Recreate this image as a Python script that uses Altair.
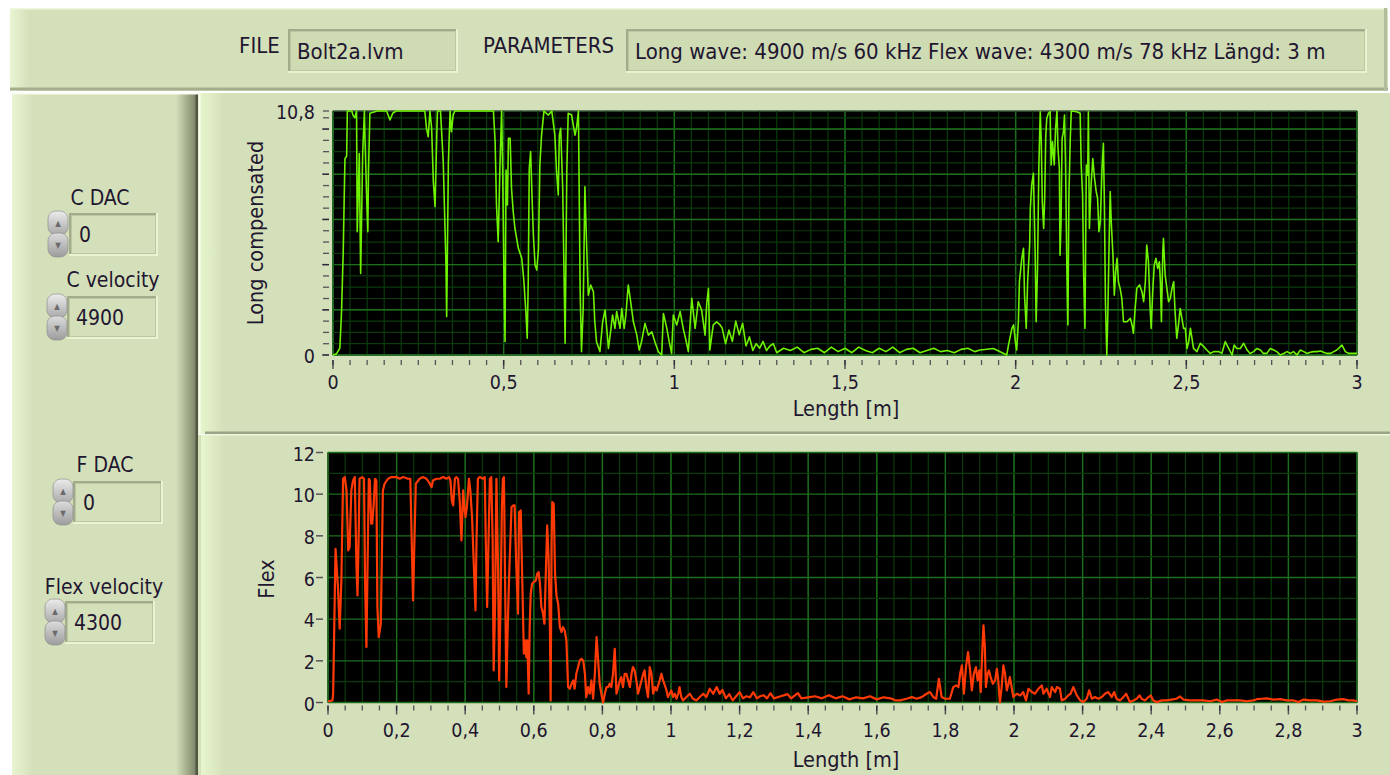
import altair as alt
import pandas as pd

# ---------------- text content ----------------
FILE_NAME = "Bolt2a.lvm"
PARAMETERS = "Long wave: 4900 m/s 60 kHz Flex wave: 4300 m/s 78 kHz Längd: 3 m"
CONTROL_LABELS = ["C DAC", "C velocity", "F DAC", "Flex velocity"]
CONTROL_VALUES = ["0", "4900", "0", "4300"]

# ---------------- series: Long compensated ----------------
TOP_X = [0.000, 0.010, 0.020, 0.025, 0.030, 0.035, 0.040, 0.042, 0.055, 0.059, 0.064, 0.069,
         0.071, 0.077, 0.081, 0.087, 0.092, 0.094, 0.099, 0.102, 0.104, 0.108, 0.130, 0.157,
         0.167, 0.175, 0.185, 0.220, 0.250, 0.269, 0.274, 0.279, 0.284, 0.289, 0.294, 0.299,
         0.304, 0.306, 0.315, 0.323, 0.331, 0.333, 0.338, 0.343, 0.347, 0.352, 0.357, 0.400,
         0.440, 0.470, 0.475, 0.479, 0.484, 0.489, 0.494, 0.497, 0.501, 0.504, 0.507, 0.511,
         0.514, 0.519, 0.523, 0.528, 0.533, 0.543, 0.553, 0.559, 0.565, 0.569, 0.572, 0.575,
         0.579, 0.583, 0.587, 0.592, 0.597, 0.602, 0.606, 0.611, 0.618, 0.631, 0.641, 0.650,
         0.655, 0.660, 0.663, 0.667, 0.673, 0.680, 0.685, 0.689, 0.699, 0.709, 0.714, 0.719,
         0.724, 0.728, 0.733, 0.738, 0.743, 0.748, 0.755, 0.763, 0.767, 0.772, 0.782, 0.790,
         0.797, 0.802, 0.807, 0.812, 0.819, 0.826, 0.831, 0.841, 0.846, 0.853, 0.858, 0.865,
         0.872, 0.880, 0.890, 0.897, 0.904, 0.914, 0.924, 0.934, 0.943, 0.953, 0.963, 0.968,
         0.978, 0.985, 0.992, 0.997, 1.007, 1.017, 1.026, 1.036, 1.041, 1.051, 1.061, 1.070,
         1.080, 1.090, 1.095, 1.100, 1.104, 1.114, 1.124, 1.134, 1.140, 1.150, 1.160, 1.170,
         1.180, 1.190, 1.200, 1.210, 1.220, 1.230, 1.240, 1.250, 1.260, 1.270, 1.280, 1.290,
         1.300, 1.320, 1.340, 1.360, 1.380, 1.400, 1.420, 1.440, 1.460, 1.480, 1.500, 1.520,
         1.540, 1.560, 1.580, 1.600, 1.620, 1.640, 1.660, 1.680, 1.700, 1.720, 1.740, 1.760,
         1.780, 1.800, 1.820, 1.840, 1.860, 1.880, 1.896, 1.935, 1.974, 1.979, 1.989, 1.994,
         1.999, 2.003, 2.008, 2.011, 2.018, 2.023, 2.026, 2.031, 2.035, 2.041, 2.043, 2.047,
         2.052, 2.057, 2.060, 2.064, 2.068, 2.072, 2.075, 2.078, 2.082, 2.085, 2.088, 2.091,
         2.096, 2.101, 2.104, 2.108, 2.113, 2.117, 2.121, 2.124, 2.128, 2.130, 2.133, 2.136,
         2.140, 2.143, 2.146, 2.150, 2.153, 2.156, 2.160, 2.163, 2.179, 2.189, 2.192, 2.196,
         2.199, 2.203, 2.207, 2.211, 2.213, 2.216, 2.221, 2.226, 2.231, 2.236, 2.240, 2.244,
         2.248, 2.253, 2.257, 2.260, 2.263, 2.267, 2.270, 2.274, 2.277, 2.280, 2.285, 2.289,
         2.293, 2.297, 2.301, 2.306, 2.311, 2.316, 2.326, 2.336, 2.341, 2.345, 2.350, 2.355,
         2.363, 2.370, 2.375, 2.380, 2.384, 2.389, 2.394, 2.397, 2.402, 2.406, 2.411, 2.416,
         2.421, 2.424, 2.427, 2.431, 2.433, 2.438, 2.443, 2.448, 2.453, 2.458, 2.463, 2.467,
         2.472, 2.477, 2.482, 2.487, 2.492, 2.497, 2.502, 2.507, 2.512, 2.521, 2.531, 2.541,
         2.551, 2.560, 2.570, 2.580, 2.595, 2.604, 2.614, 2.624, 2.634, 2.640, 2.648, 2.658,
         2.668, 2.678, 2.687, 2.697, 2.707, 2.717, 2.726, 2.736, 2.746, 2.756, 2.765, 2.775,
         2.785, 2.795, 2.805, 2.814, 2.824, 2.834, 2.844, 2.853, 2.863, 2.873, 2.883, 2.893,
         2.902, 2.912, 2.922, 2.932, 2.941, 2.956, 2.966, 2.975, 2.985, 3.000]
TOP_Y = [0.0, 0.05, 0.3, 1.9, 4.6, 8.7, 8.8, 10.8, 10.8, 10.6, 10.5, 10.8,
         5.46, 8.92, 3.61, 8.92, 10.8, 9.44, 6.78, 5.46, 8.11, 10.7, 10.8, 10.8,
         10.4, 10.7, 10.8, 10.8, 10.8, 10.8, 10.03, 9.66, 10.8, 10.03, 7.67, 6.56,
         9.73, 10.8, 10.8, 8.55, 3.98, 1.7, 8.48, 10.8, 9.88, 10.62, 10.8, 10.8,
         10.8, 10.8, 9.44, 6.64, 5.01, 8.26, 10.8, 8.19, 3.24, 0.6, 8.19, 6.64,
         9.59, 9.59, 7.37, 6.34, 5.6, 4.72, 4.28, 3.32, 1.92, 0.74, 3.24, 8.26,
         9.0, 7.08, 5.31, 3.98, 3.76, 4.72, 8.41, 9.73, 10.8, 10.62, 10.8, 9.73,
         8.11, 7.08, 9.73, 10.03, 7.37, 0.52, 8.11, 10.7, 10.62, 9.73, 10.1, 10.8,
         2.95, 0.15, 2.06, 7.45, 4.87, 2.65, 3.1, 2.8, 1.47, 0.59, 0.15, 1.47,
         1.99, 1.18, 0.29, 0.88, 1.77, 1.18, 1.92, 1.18, 2.06, 1.18, 1.77, 3.1,
         2.36, 1.47, 0.88, 0.22, 0.59, 1.4, 0.88, 1.03, 0.59, 0.15, 0.0, 1.84,
         1.18, 0.59, 0.07, 1.77, 1.33, 1.92, 1.18, 0.52, 0.15, 2.51, 1.18, 2.36,
         1.99, 0.88, 2.28, 2.95, 0.22, 1.33, 1.47, 1.33, 1.2, 0.5, 1.1, 0.6,
         1.5, 0.9, 1.4, 0.4, 0.8, 0.2, 0.5, 0.3, 0.6, 0.2, 0.4, 0.5,
         0.1, 0.3, 0.2, 0.35, 0.1, 0.25, 0.3, 0.1, 0.35, 0.15, 0.3, 0.1,
         0.35, 0.2, 0.1, 0.3, 0.15, 0.35, 0.1, 0.25, 0.3, 0.1, 0.2, 0.3,
         0.15, 0.2, 0.1, 0.25, 0.3, 0.15, 0.22, 0.29, 0.0, 0.44, 1.18, 1.33,
         0.59, 0.22, 1.47, 3.24, 4.28, 4.72, 2.65, 1.18, 3.24, 4.87, 6.49, 7.52,
         8.04, 4.57, 1.47, 3.83, 8.41, 10.77, 9.44, 6.78, 5.6, 6.93, 9.59, 10.47,
         10.7, 10.77, 8.41, 9.44, 8.41, 10.03, 10.8, 9.14, 8.26, 4.42, 5.9, 9.59,
         9.88, 10.62, 8.55, 3.83, 1.33, 7.08, 9.59, 10.8, 10.77, 10.7, 8.41, 7.08,
         3.69, 1.18, 8.41, 7.96, 10.77, 5.6, 7.52, 8.7, 7.82, 7.23, 6.93, 5.46,
         5.9, 8.26, 9.37, 6.64, 2.36, 0.0, 1.77, 5.16, 7.23, 5.9, 4.42, 2.65,
         3.69, 4.28, 3.24, 2.95, 2.51, 1.47, 1.47, 1.62, 1.33, 0.96, 2.06, 2.95,
         3.1, 2.8, 2.36, 3.24, 4.87, 4.13, 2.06, 1.18, 2.95, 3.98, 4.28, 3.83,
         4.13, 3.24, 1.47, 4.57, 5.16, 3.54, 2.95, 2.36, 2.51, 2.95, 3.24, 1.92,
         0.74, 1.33, 2.06, 1.62, 1.18, 1.18, 0.29, 0.59, 1.18, 0.29, 0.15, 0.52,
         0.37, 0.22, 0.07, 0.15, 0.15, 0.07, 0.59, 0.29, 0.0, 0.44, 0.29, 0.29,
         0.52, 0.22, 0.07, 0.15, 0.29, 0.22, 0.07, 0.07, 0.29, 0.22, 0.15, 0.0,
         0.07, 0.15, 0.07, 0.15, 0.0, 0.22, 0.15, 0.07, 0.12, 0.15, 0.15, 0.18,
         0.12, 0.07, 0.07, 0.15, 0.22, 0.44, 0.15, 0.07, 0.07, 0.07]

# ---------------- series: Flex ----------------
BOT_X = [0.000, 0.013, 0.015, 0.022, 0.029, 0.034, 0.039, 0.044, 0.049, 0.054, 0.059, 0.063,
         0.068, 0.073, 0.078, 0.083, 0.086, 0.090, 0.092, 0.100, 0.105, 0.108, 0.112, 0.115,
         0.119, 0.122, 0.126, 0.129, 0.133, 0.137, 0.141, 0.144, 0.148, 0.154, 0.160, 0.165,
         0.175, 0.185, 0.199, 0.209, 0.219, 0.233, 0.240, 0.244, 0.248, 0.252, 0.256, 0.267,
         0.277, 0.287, 0.297, 0.302, 0.306, 0.316, 0.326, 0.336, 0.345, 0.353, 0.357, 0.361,
         0.365, 0.370, 0.374, 0.379, 0.384, 0.389, 0.394, 0.398, 0.401, 0.405, 0.411, 0.415,
         0.420, 0.425, 0.430, 0.433, 0.437, 0.442, 0.452, 0.457, 0.460, 0.464, 0.468, 0.472,
         0.476, 0.480, 0.483, 0.487, 0.491, 0.496, 0.499, 0.503, 0.507, 0.510, 0.513, 0.516,
         0.520, 0.524, 0.528, 0.535, 0.540, 0.544, 0.549, 0.554, 0.557, 0.562, 0.567, 0.571,
         0.575, 0.578, 0.581, 0.585, 0.588, 0.591, 0.595, 0.600, 0.606, 0.610, 0.614, 0.618,
         0.622, 0.627, 0.631, 0.635, 0.639, 0.643, 0.647, 0.649, 0.652, 0.654, 0.658, 0.662,
         0.666, 0.671, 0.676, 0.681, 0.685, 0.690, 0.695, 0.700, 0.705, 0.710, 0.715, 0.719,
         0.724, 0.729, 0.734, 0.739, 0.744, 0.749, 0.753, 0.758, 0.763, 0.768, 0.773, 0.778,
         0.783, 0.787, 0.792, 0.797, 0.802, 0.807, 0.812, 0.817, 0.821, 0.826, 0.831, 0.836,
         0.841, 0.846, 0.851, 0.855, 0.860, 0.865, 0.870, 0.875, 0.880, 0.885, 0.889, 0.894,
         0.899, 0.904, 0.909, 0.914, 0.919, 0.923, 0.928, 0.933, 0.938, 0.943, 0.948, 0.953,
         0.958, 0.967, 0.972, 0.977, 0.987, 0.991, 0.996, 1.001, 1.006, 1.011, 1.016, 1.021,
         1.025, 1.030, 1.035, 1.045, 1.055, 1.064, 1.074, 1.084, 1.094, 1.103, 1.113, 1.123,
         1.133, 1.142, 1.150, 1.160, 1.170, 1.180, 1.190, 1.200, 1.210, 1.220, 1.230, 1.240,
         1.250, 1.260, 1.270, 1.280, 1.290, 1.300, 1.320, 1.340, 1.350, 1.370, 1.380, 1.400,
         1.420, 1.440, 1.460, 1.480, 1.500, 1.520, 1.540, 1.560, 1.580, 1.600, 1.620, 1.640,
         1.655, 1.668, 1.687, 1.702, 1.716, 1.731, 1.745, 1.755, 1.765, 1.773, 1.781, 1.789,
         1.799, 1.813, 1.823, 1.831, 1.838, 1.843, 1.848, 1.854, 1.860, 1.866, 1.872, 1.877,
         1.883, 1.889, 1.894, 1.899, 1.903, 1.908, 1.911, 1.915, 1.918, 1.923, 1.927, 1.932,
         1.938, 1.945, 1.950, 1.954, 1.959, 1.964, 1.969, 1.974, 1.979, 1.984, 1.988, 1.993,
         1.998, 2.008, 2.018, 2.027, 2.035, 2.042, 2.052, 2.061, 2.071, 2.081, 2.086, 2.095,
         2.105, 2.110, 2.120, 2.125, 2.134, 2.139, 2.149, 2.158, 2.165, 2.173, 2.183, 2.193,
         2.202, 2.212, 2.219, 2.227, 2.236, 2.246, 2.256, 2.265, 2.275, 2.285, 2.292, 2.299,
         2.309, 2.319, 2.327, 2.338, 2.348, 2.358, 2.366, 2.372, 2.382, 2.392, 2.399, 2.406,
         2.416, 2.431, 2.445, 2.460, 2.474, 2.484, 2.494, 2.513, 2.533, 2.552, 2.572, 2.591,
         2.606, 2.620, 2.640, 2.659, 2.678, 2.698, 2.708, 2.722, 2.737, 2.756, 2.776, 2.795,
         2.815, 2.829, 2.844, 2.863, 2.883, 2.902, 2.921, 2.941, 2.960, 2.975, 2.989, 3.000]
BOT_Y = [0.05, 0.1, 0.42, 7.38, 5.54, 3.54, 5.86, 10.74, 10.82, 10.18, 7.3, 7.46,
         10.18, 10.66, 10.82, 6.5, 5.14, 8.58, 10.74, 10.82, 10.74, 5.86, 2.66, 6.18,
         10.74, 10.66, 8.58, 8.58, 9.46, 10.74, 10.66, 4.58, 3.14, 3.78, 10.18, 10.5,
         10.74, 10.82, 10.82, 10.74, 10.82, 10.74, 10.74, 7.78, 4.9, 7.78, 10.5, 10.74,
         10.82, 10.74, 10.5, 10.34, 10.66, 10.74, 10.74, 10.82, 10.74, 10.82, 10.66, 9.7,
         9.46, 10.74, 10.82, 10.74, 9.7, 7.78, 10.18, 9.3, 8.9, 9.38, 10.74, 10.18,
         8.9, 6.66, 4.42, 7.78, 10.74, 10.82, 10.74, 10.82, 7.78, 4.58, 7.78, 10.74,
         10.82, 7.78, 1.54, 4.58, 10.74, 6.18, 1.06, 4.58, 9.38, 10.74, 10.82, 6.18,
         0.74, 3.62, 6.02, 9.38, 9.46, 9.46, 6.5, 4.26, 9.14, 9.22, 5.38, 2.34,
         2.98, 2.18, 2.98, 0.42, 3.62, 5.22, 5.7, 5.78, 5.86, 6.18, 6.26, 5.7,
         4.58, 4.26, 3.78, 6.18, 8.5, 6.98, 3.62, 0.1, 7.78, 9.62, 9.54, 6.18,
         5.14, 4.74, 3.62, 3.38, 3.62, 3.46, 2.98, 0.74, 0.66, 0.9, 1.06, 0.66,
         1.38, 1.7, 2.02, 2.1, 2.02, 1.38, 0.26, 0.74, 0.42, 1.06, 0.18, 1.38,
         3.14, 2.18, 0.9, 0.42, 0.0, 0.42, 0.74, 0.74, 0.9, 0.74, 1.38, 2.58,
         0.42, 0.74, 1.06, 1.22, 0.74, 1.38, 1.38, 1.06, 0.74, 1.38, 1.7, 1.54,
         1.06, 0.42, 0.74, 1.06, 1.38, 1.54, 0.74, 0.26, 1.7, 1.38, 0.42, 0.74,
         0.58, 1.06, 1.38, 1.06, 0.58, 0.26, 0.42, 0.58, 0.26, 0.42, 0.18, 0.42,
         0.74, 0.26, 0.1, 0.26, 0.42, 0.18, 0.1, 0.26, 0.42, 0.26, 0.66, 0.42,
         0.74, 0.42, 0.6, 0.2, 0.4, 0.1, 0.3, 0.5, 0.2, 0.3, 0.25, 0.5,
         0.2, 0.3, 0.35, 0.2, 0.45, 0.2, 0.3, 0.4, 0.2, 0.45, 0.2, 0.25,
         0.3, 0.2, 0.35, 0.2, 0.3, 0.15, 0.25, 0.2, 0.3, 0.15, 0.25, 0.2,
         0.1, 0.1, 0.18, 0.26, 0.18, 0.26, 0.42, 0.5, 0.26, 0.18, 1.14, 0.26,
         0.18, 0.18, 0.74, 0.82, 0.74, 1.38, 1.78, 0.42, 1.7, 2.42, 1.54, 0.58,
         1.38, 1.7, 1.06, 1.54, 0.5, 2.66, 3.7, 2.66, 0.74, 1.38, 1.54, 1.22,
         0.9, 1.06, 1.62, 1.06, 0.0, 0.74, 1.78, 1.38, 0.58, 0.9, 1.22, 0.74,
         0.26, 0.42, 0.34, 0.5, 0.1, 0.66, 0.5, 0.42, 0.66, 0.82, 0.42, 0.66,
         0.26, 0.74, 0.5, 0.74, 0.66, 0.1, 0.18, 0.34, 0.42, 0.74, 0.34, 0.1,
         0.02, 0.18, 0.58, 0.18, 0.26, 0.18, 0.26, 0.42, 0.5, 0.26, 0.5, 0.18,
         0.1, 0.26, 0.42, 0.02, 0.1, 0.18, 0.34, 0.18, 0.1, 0.26, 0.34, 0.1,
         0.02, 0.1, 0.1, 0.14, 0.18, 0.29, 0.14, 0.1, 0.1, 0.1, 0.06, 0.14,
         0.02, 0.1, 0.1, 0.1, 0.06, 0.1, 0.16, 0.18, 0.2, 0.14, 0.16, 0.1,
         0.1, 0.02, 0.14, 0.1, 0.1, 0.04, 0.06, 0.14, 0.16, 0.1, 0.1, 0.06]

# ---------------- axis ticks / labels ----------------
TOP_XTICK_MINOR = [round(i * 0.05, 2) for i in range(61)]
TOP_XTICK_MAJOR = [0, 0.5, 1, 1.5, 2, 2.5, 3]
TOP_XLABELS = ["0", "0,5", "1", "1,5", "2", "2,5", "3"]
TOP_YTICK_MINOR = [i * 0.5 for i in range(22)] + [10.8]
TOP_YTICK_MAJOR = [0, 2, 4, 6, 8, 10]
TOP_YLABEL_POS = [0, 10.8]
TOP_YLABELS = ["0", "10,8"]

BOT_XTICK_MINOR = [round(i * 0.05, 2) for i in range(61)]
BOT_XTICK_MAJOR = [round(i * 0.2, 1) for i in range(16)]
BOT_XLABELS = ["0", "0,2", "0,4", "0,6", "0,8", "1", "1,2", "1,4", "1,6", "1,8",
               "2", "2,2", "2,4", "2,6", "2,8", "3"]
BOT_YTICK_MAJOR = [0, 2, 4, 6, 8, 10, 12]
BOT_YLABELS = ["0", "2", "4", "6", "8", "10", "12"]
BOT_YGRID_MINOR = [1, 3, 5, 7, 9, 11]

# ---------------- style ----------------
FONT = "DejaVu Sans Condensed, DejaVu Sans"
TXT = "#1f1630"
BG = "#d4e0b9"
LIGHT = "#e8f4cf"
SHADOW = "#a4ae8e"
GRID_MINOR = "#0a3b0a"
GRID_MAJOR = "#1d6e1d"
GREEN = "#6ef200"
RED = "#ff3a06"
FS = 21
FS_TOP = 22
FS_TITLE = 21.5

ONE = pd.DataFrame({"k": [0]})


def hgrad(c1, c2):
    return alt.LinearGradient(gradient="linear",
                              stops=[alt.GradientStop(color=c1, offset=0),
                                     alt.GradientStop(color=c2, offset=1)],
                              x1=0, x2=1, y1=0, y2=0)


def vgrad(c1, c2):
    return alt.LinearGradient(gradient="linear",
                              stops=[alt.GradientStop(color=c1, offset=0),
                                     alt.GradientStop(color=c2, offset=1)],
                              x1=0, x2=0, y1=0, y2=1)


def box(x1, x2, y1, y2, fill, **kw):
    return alt.Chart(ONE).mark_rect(fill=fill, **kw).encode(
        x=alt.value(x1), x2=alt.value(x2), y=alt.value(y1), y2=alt.value(y2))


def label(x, y, s, size=FS, align="left", angle=0, color=TXT):
    mk = dict(font=FONT, fontSize=size, align=align, baseline="middle", color=color)
    if angle:
        mk["angle"] = angle
    return alt.Chart(ONE).mark_text(**mk).encode(
        x=alt.value(x), y=alt.value(y), text=alt.value(s))


def inset(x1, x2, y1, y2, fill):
    return [box(x1, x2, y1, y2, LIGHT),
            box(x1, x2 - 2, y1, y2 - 2, "#a2ac8c"),
            box(x1 + 2, x2 - 2, y1 + 2, y2 - 2, "#bcc7a2"),
            box(x1 + 3, x2 - 3, y1 + 3, y2 - 3, fill)]


def spinner(x, y1, y2):
    mid = (y1 + y2) / 2
    return [box(x, x + 20, y1, mid + 1, vgrad("#ececec", "#a8a8a8"), cornerRadius=8,
                stroke="#8e8e8e", strokeWidth=0.7),
            box(x, x + 20, mid - 1, y2, vgrad("#dcdcdc", "#9c9c9c"), cornerRadius=8,
                stroke="#8e8e8e", strokeWidth=0.7),
            label(x + 10, (y1 + mid) / 2 + 1, "▲", size=8, align="center", color="#6a6a6a"),
            label(x + 10, (mid + y2) / 2, "▼", size=8, align="center", color="#6a6a6a")]


chrome = []
# top bar
chrome += [box(10, 1388, 8, 91, BG),
           box(10, 30, 8, 91, hgrad("#e9f5d2", BG)),
           box(10, 1388, 8, 9.5, "#eef8dc"),
           box(10, 1388, 87.5, 90.5, SHADOW),
           box(1384, 1387, 8, 91, "#b3bd9c")]
# left panel
chrome += [box(12, 198, 93, 775, BG),
           box(12, 34, 93, 775, hgrad("#e9f5d2", BG)),
           box(176, 196, 93, 775, hgrad(BG, "#7c8468")),
           box(195.5, 198, 93, 775, "#505641"),
           box(12, 198, 93, 94.5, "#f6fbea")]
# chart panels
chrome += [box(198, 1390, 93, 434, BG),
           box(199, 224, 93, 434, hgrad("#e8f6cd", BG)),
           box(198.5, 200.5, 93, 775, "#f8fdee"),
           box(205, 1390, 431.5, 434, "#9aa487"),
           box(198, 1390, 435, 775, BG),
           box(201, 224, 435, 775, hgrad("#e8f6cd", BG)),
           box(205, 1390, 434, 435.5, "#eef8dc")]
# file / parameter boxes
chrome += inset(288, 458, 29, 73, "#cfdbb3")
chrome += inset(626, 1367, 29, 73, "#cfdbb3")
chrome += [label(239, 46, "FILE", size=FS_TOP),
           label(297, 52, FILE_NAME, size=FS_TOP),
           label(483, 46, "PARAMETERS", size=FS_TOP),
           label(635, 52, PARAMETERS, size=FS_TOP)]
# controls
ctrl = [  # (label cx, label y, spinner x, box x1, box x2, box y1, box y2, value x)
    (100, 199, 48, 69, 158, 213, 256, 79),
    (113, 281, 47, 67, 158, 296, 339, 76),
    (105, 466, 53, 73, 163, 481, 524, 83),
    (104, 588, 45, 65, 155, 601, 644, 74),
]
for i, (cx, ly, sx, bx1, bx2, by1, by2, vx) in enumerate(ctrl):
    chrome += [label(cx, ly, CONTROL_LABELS[i], align="center")]
    chrome += inset(bx1, bx2, by1, by2, BG)
    chrome += spinner(sx, by1 - 2, by2 + 1)
    chrome += [label(vx, (by1 + by2) / 2 + 1, CONTROL_VALUES[i])]
# axis titles
chrome += [label(257, 233, "Long compensated", size=FS_TITLE, angle=270, align="center"),
           label(268, 579, "Flex", size=FS_TITLE, angle=270, align="center"),
           label(846, 410, "Length [m]", size=FS_TITLE, align="center"),
           label(846, 761, "Length [m]", size=FS_TITLE, align="center")]


def build(xs, ys, ydom, xd, yd, line_color, line_width,
          xgrid_minor, xgrid_major, ygrid_minor, ygrid_major,
          xt_minor, xt_major, xl_pos, xl, yt_minor, yt_major, yl_pos, yl,
          ytick_x_off, ylab_dx, xtick_y0):
    sx = alt.Scale(domain=[0, 3], range=xs, nice=False, zero=False)
    sy = alt.Scale(domain=ydom, range=ys, nice=False, zero=False)

    def X(f):
        return alt.X(f, type="quantitative", scale=sx, axis=None)

    def Y(f):
        return alt.Y(f, type="quantitative", scale=sy, axis=None)

    def XD(v):
        return alt.XDatum(v, type="quantitative", scale=sx, axis=None)

    def YD(v):
        return alt.YDatum(v, type="quantitative", scale=sy, axis=None)

    L = []
    L.append(alt.Chart(ONE).mark_rect(fill="#000000", stroke="#9c9c9c", strokeWidth=1.2).encode(
        x=XD(0), x2=alt.X2Datum(3), y=YD(ydom[0]), y2=alt.Y2Datum(ydom[1])))
    for vals, col, w in [(xgrid_minor, GRID_MINOR, 1.2), (xgrid_major, GRID_MAJOR, 1.4)]:
        L.append(alt.Chart(pd.DataFrame({"v": vals})).mark_rule(color=col, strokeWidth=w).encode(
            x=X("v"), y=YD(ydom[0]), y2=alt.Y2Datum(ydom[1])))
    for vals, col, w in [(ygrid_minor, GRID_MINOR, 1.2), (ygrid_major, GRID_MAJOR, 1.4)]:
        L.append(alt.Chart(pd.DataFrame({"v": vals})).mark_rule(color=col, strokeWidth=w).encode(
            y=Y("v"), x=XD(0), x2=alt.X2Datum(3)))
    data = pd.DataFrame({"x": xd, "y": yd})
    L.append(alt.Chart(data).mark_line(color=line_color, strokeWidth=line_width,
                                       strokeJoin="round").encode(x=X("x"), y=Y("y")))
    # x ticks
    L.append(alt.Chart(pd.DataFrame({"v": xt_minor})).mark_tick(
        orient="vertical", size=5, thickness=1.3, color=TXT, yOffset=xtick_y0 + 2.5).encode(
        x=X("v"), y=YD(ydom[0])))
    L.append(alt.Chart(pd.DataFrame({"v": xt_major})).mark_tick(
        orient="vertical", size=9, thickness=1.5, color=TXT, yOffset=xtick_y0 + 4.5).encode(
        x=X("v"), y=YD(ydom[0])))
    # y ticks
    if yt_minor:
        L.append(alt.Chart(pd.DataFrame({"v": yt_minor})).mark_tick(
            orient="horizontal", size=6, thickness=1.3, color=TXT, xOffset=ytick_x_off).encode(
            y=Y("v"), x=XD(0)))
    L.append(alt.Chart(pd.DataFrame({"v": yt_major})).mark_tick(
        orient="horizontal", size=7, thickness=1.5, color=TXT, xOffset=ytick_x_off - 0.5).encode(
        y=Y("v"), x=XD(0)))
    # labels
    L.append(alt.Chart(pd.DataFrame({"p": xl_pos, "t": xl})).mark_text(
        font=FONT, fontSize=19.5, color=TXT, baseline="middle", align="center", dy=28).encode(
        x=X("p"), y=YD(ydom[0]), text="t:N"))
    L.append(alt.Chart(pd.DataFrame({"p": yl_pos, "t": yl})).mark_text(
        font=FONT, fontSize=19.5, color=TXT, baseline="middle", align="right", dx=ylab_dx, dy=2).encode(
        y=Y("p"), x=XD(0), text="t:N"))
    return alt.layer(*L)


top = build([333, 1357], [355, 111], [0, 10.8], TOP_X, TOP_Y, GREEN, 1.6,
            TOP_XTICK_MINOR, TOP_XTICK_MAJOR, TOP_YTICK_MINOR, TOP_YTICK_MAJOR,
            TOP_XTICK_MINOR, TOP_XTICK_MAJOR, TOP_XTICK_MAJOR, TOP_XLABELS,
            TOP_YTICK_MINOR, TOP_YTICK_MAJOR, TOP_YLABEL_POS, TOP_YLABELS,
            -7, -18, 5)

bot = build([328, 1357], [702.5, 452.5], [0, 12], BOT_X, BOT_Y, RED, 2.2,
            BOT_XTICK_MINOR, BOT_XTICK_MAJOR, BOT_YGRID_MINOR, BOT_YTICK_MAJOR,
            BOT_XTICK_MINOR, BOT_XTICK_MAJOR, BOT_XTICK_MAJOR, BOT_XLABELS,
            [], BOT_YTICK_MAJOR, BOT_YTICK_MAJOR, BOT_YLABELS,
            -8, -13, 3)

chart = alt.layer(alt.layer(*chrome), top, bot).resolve_scale(
    x="independent", y="independent"
).properties(
    width=1390, height=775, autosize=alt.AutoSizeParams(type="none"), padding=0,
    background="#ffffff"
).configure_view(strokeWidth=0)

chart.save("out.html", embed_options={"renderer": "svg", "actions": False})
